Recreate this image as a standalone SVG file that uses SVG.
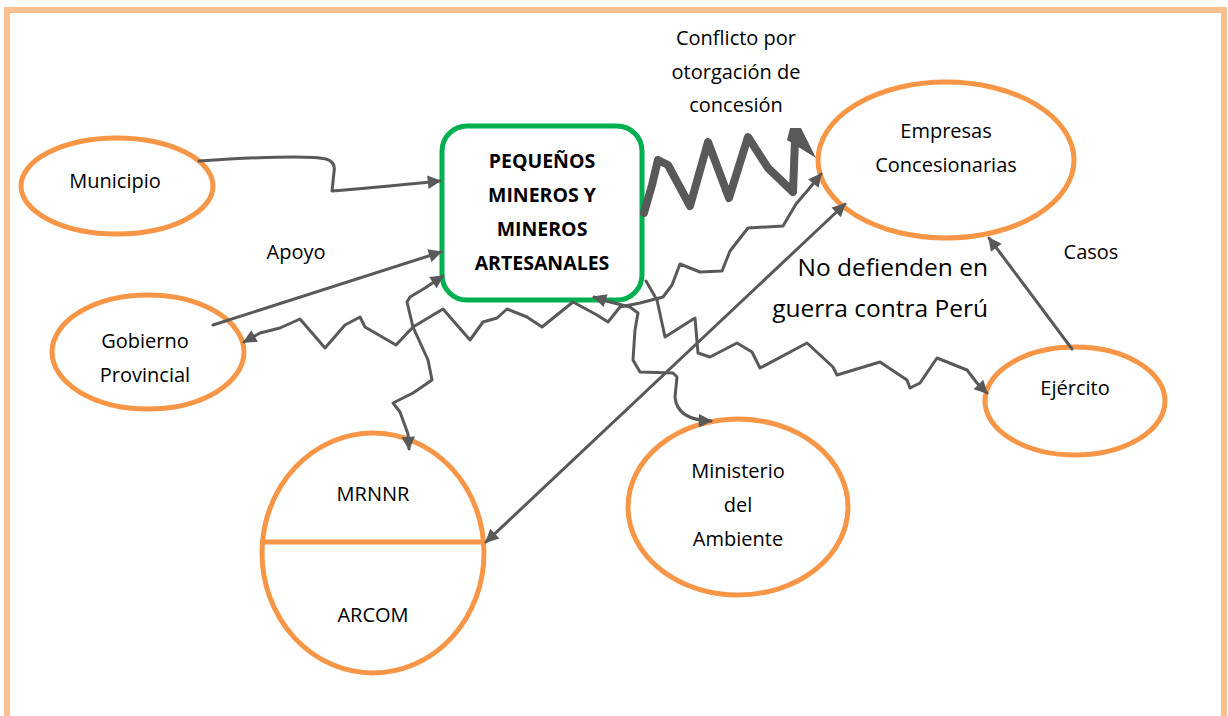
<svg xmlns="http://www.w3.org/2000/svg" width="1228" height="716" viewBox="0 0 1228 716">
<style>
.node{fill:#fff;stroke:#F79646;stroke-width:5}
.t{font-family:"Open Sans","Noto Sans","DejaVu Sans",sans-serif;font-size:20px;fill:#000;text-anchor:middle}
.b{font-weight:bold;font-size:19.5px}
.c{fill:none;stroke:#595959;stroke-width:3;stroke-linejoin:round;stroke-linecap:round}
</style>
<defs>
<marker id="ah" viewBox="0 0 10 10" refX="9" refY="5" markerWidth="5.5" markerHeight="4.5" orient="auto-start-reverse" markerUnits="strokeWidth">
<path d="M0,0 L10,5 L0,10 Z" fill="#595959"/>
</marker>
</defs>
<rect x="7" y="10" width="1217" height="730" fill="#fff" stroke="#FAC090" stroke-width="6"/>

<g id="box">
<rect x="442" y="126" width="200" height="174" rx="25" fill="#fff" stroke="#00B050" stroke-width="5"/>
<text class="t b" x="542" y="168">PEQUEÑOS</text>
<text class="t b" x="542" y="202">MINEROS Y</text>
<text class="t b" x="542" y="236">MINEROS</text>
<text class="t b" x="542" y="270">ARTESANALES</text>
</g>
<g id="municipio">
<ellipse class="node" cx="117" cy="186" rx="96" ry="48"/>
<text class="t" x="115" y="188">Municipio</text>
</g>
<g id="empresas">
<ellipse class="node" cx="946" cy="160" rx="128" ry="78"/>
<text class="t" x="946" y="138">Empresas</text>
<text class="t" x="946" y="172">Concesionarias</text>
</g>
<g id="gobierno">
<ellipse class="node" cx="148" cy="352" rx="96" ry="57"/>
<text class="t" x="145" y="348">Gobierno</text>
<text class="t" x="145" y="382">Provincial</text>
</g>
<g id="ejercito">
<ellipse class="node" cx="1075" cy="401" rx="90" ry="54"/>
<text class="t" x="1075" y="395">Ejército</text>
</g>
<g id="ministerio">
<ellipse class="node" cx="738" cy="507" rx="110" ry="88"/>
<text class="t" x="738" y="478">Ministerio</text>
<text class="t" x="738" y="512">del</text>
<text class="t" x="738" y="546">Ambiente</text>
</g>
<g id="mrnnr-arcom">
<ellipse class="node" cx="373" cy="553" rx="111" ry="120"/>
<line x1="262" y1="542" x2="485" y2="542" stroke="#F79646" stroke-width="5"/>
<text class="t" x="373" y="501">MRNNR</text>
<text class="t" x="373" y="622">ARCOM</text>
</g>

<g id="connectors">
<path class="c" marker-end="url(#ah)" d="M199,161 C260,157 310,155 326,159 Q336,162 334,172 L332,191 C370,188 410,184 440,181"/>
<path class="c" marker-end="url(#ah)" d="M213,325 L441,252"/>
<path class="c" marker-start="url(#ah)" marker-end="url(#ah)" d="M244,342 L260,333 L280,328 L300,319 L325,348 L345,325 L360,317 L365,327 L396,345 L413,327 L443,309 L470,340 L483,322 L497,318 L507,309 L527,317 L542,327 L573,302 L597,315 L608,322 L620,307 L640,303 L663,297 L672,285 L680,264 L700,272 L722,271 L730,251 L748,228 L783,226 L796,204 L808,190 L821,174"/>
<path class="c" marker-start="url(#ah)" marker-end="url(#ah)" d="M443,276 L425,288 L410,297 L407,302 L413,327 L428,360 L432,380 L413,393 L393,403 L400,412 L408,434 L409,449"/>
<path class="c" marker-start="url(#ah)" marker-end="url(#ah)" d="M594,297 L610,302 L630,307 L638,313 L635,330 L633,360 L640,372 L673,373 L677,377 L675,397 Q677,420 711,421"/>
<path class="c" marker-end="url(#ah)" d="M646,281 L657,300 L665,337 L695,318 L698,353 L710,357 L737,343 L752,352 L760,368 L807,343 L833,367 L837,375 L880,362 L907,380 L910,388 L920,383 L937,358 L967,370 L977,383 L987,393"/>
<path class="c" marker-start="url(#ah)" marker-end="url(#ah)" d="M486,542 L845,204"/>
<path class="c" marker-end="url(#ah)" d="M1072,349 L989,238"/>
<path fill="none" stroke="#595959" stroke-width="8" stroke-linejoin="round" stroke-linecap="round" d="M644,213 L652,185 L658,160 L668,165 L690,206 L708,142 L729,198 L748,137 L768,168 L793,192 L795,140"/>
<path fill="#595959" d="M787,140 L790,128 L801,128 L816,158 Z"/>
</g>

<g id="labels">
<text class="t" x="736" y="45">Conflicto por</text>
<text class="t" x="736" y="79">otorgación de</text>
<text class="t" x="736" y="112">concesión</text>
<text class="t" x="296" y="259">Apoyo</text>
<text class="t" x="988" y="276" style="text-anchor:end;font-size:24.5px">No defienden en</text>
<text class="t" x="988" y="317" style="text-anchor:end;font-size:24.5px">guerra contra Perú</text>
<text class="t" x="1091" y="259">Casos</text>
</g>
</svg>
